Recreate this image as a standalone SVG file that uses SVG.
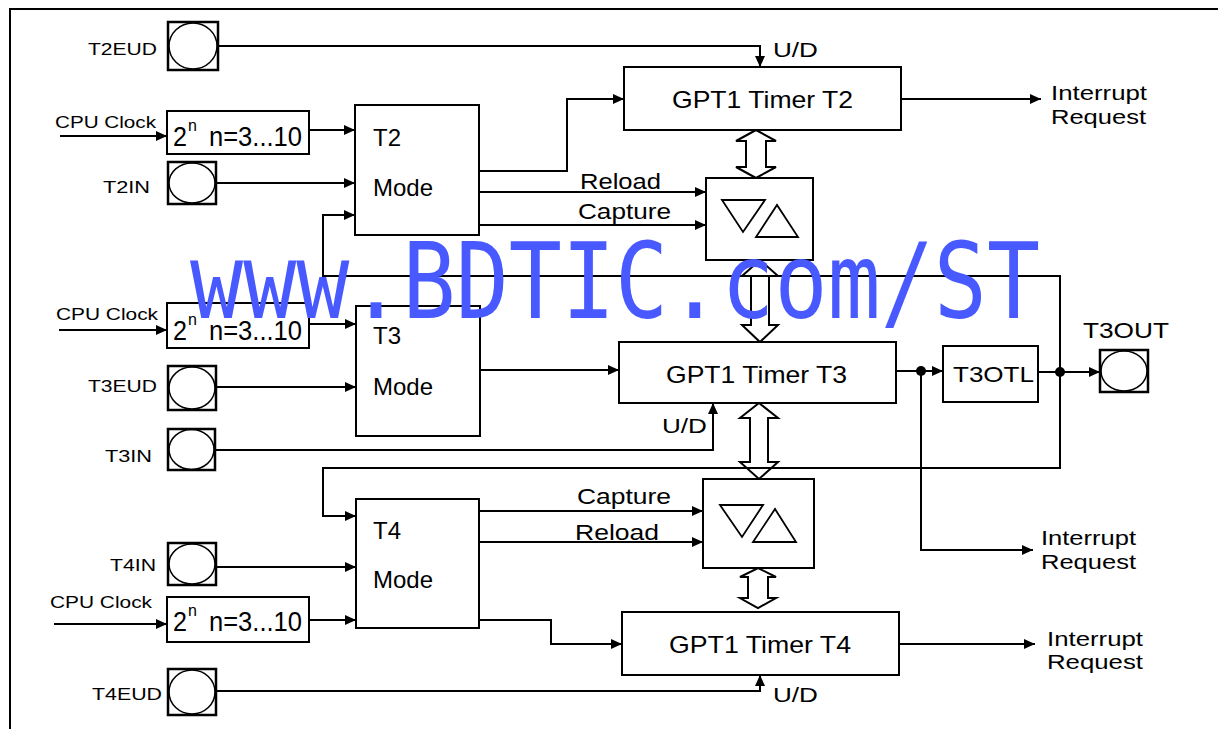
<svg xmlns="http://www.w3.org/2000/svg" width="1218" height="729" viewBox="0 0 1218 729">
<style>
.box{fill:#fff;stroke:#000;stroke-width:2}
.pin{fill:#fff;stroke:#000;stroke-width:2.5}
.pc{fill:none;stroke:#000;stroke-width:1.5}
.ln{fill:none;stroke:#000;stroke-width:2}
.ar{marker-end:url(#ah)}
.da{fill:none;stroke:#000;stroke-width:2;stroke-linejoin:miter}
.tri{fill:none;stroke:#000;stroke-width:1.8}
text{font-family:"Liberation Sans",Arial,sans-serif;fill:#000}
.pl{font-size:16.5px}
.cl{font-size:16px}
.md{font-size:24px}
.tm{font-size:24px}
.ud{font-size:20px}
.rc{font-size:22px}
.ir{font-size:21px}
.ps{font-size:28px}
.sup{font-size:16px}
.wm{font-family:"DejaVu Sans Mono",monospace;font-size:106px;fill:#485aff}
</style>
<defs>
<marker id="ah" markerUnits="userSpaceOnUse" markerWidth="11" markerHeight="10" refX="11" refY="5" orient="auto">
<path d="M0,0 L11,5 L0,10 z" fill="#000"/>
</marker>
</defs>

<g id="frame">
<path class="ln" d="M10,729 V9 H1218"/>
</g>

<g id="connectors">
<path class="ln ar" d="M218,46 H760 V67"/>
<path class="ln ar" d="M60,136 H167"/>
<path class="ln ar" d="M59,330 H167"/>
<path class="ln ar" d="M54,624 H167"/>
<path class="ln ar" d="M309,130 H355"/>
<path class="ln ar" d="M309,324 H356"/>
<path class="ln ar" d="M309,620 H356"/>
<path class="ln ar" d="M216,183 H355"/>
<path class="ln ar" d="M216,387 H356"/>
<path class="ln ar" d="M216,567 H356"/>
<path class="ln ar" d="M479,171 H567 V99 H624"/>
<path class="ln ar" d="M479,192 H706"/>
<path class="ln ar" d="M479,225 H706"/>
<path class="ln ar" d="M901,99 H1041"/>
<path class="ln ar" d="M480,370 H619"/>
<path class="ln ar" d="M215,450 H713 V403"/>
<path class="ln ar" d="M896,371 H943"/>
<path class="ln ar" d="M1038,372 H1100"/>
<path class="ln ar" d="M921,371 V550 H1033"/>
<path class="ln ar" d="M1060,372 V276 H323 V215 H355"/>
<path class="ln ar" d="M1060,372 V468 H323 V516 H356"/>
<path class="ln ar" d="M479,511 H703"/>
<path class="ln ar" d="M479,542 H703"/>
<path class="ln ar" d="M479,620 H551 V644 H622"/>
<path class="ln ar" d="M216,691 H760 V675"/>
<path class="ln ar" d="M899,644 H1035"/>
<circle cx="921" cy="371" r="5" fill="#000"/>
<circle cx="1060" cy="372" r="5" fill="#000"/>
<polygon class="da" points="756,130 776,141 766,141 766,167 776,167 756,178 736,167 746,167 746,141 736,141"/>
<polygon class="da" points="760,260 778,276 769,276 769,325 778,325 760,342 742,325 751,325 751,276 742,276"/>
<polygon class="da" points="759,403 778,418 768,418 768,462 778,462 759,479 740,462 750,462 750,418 740,418"/>
<polygon class="da" points="758,568 776,577 768,577 768,598 776,598 758,608 740,598 748,598 748,577 740,577"/>
</g>

<g id="pin-t2eud"><rect class="pin" x="168" y="22" width="50" height="48"/><ellipse class="pc" cx="193" cy="46" rx="24" ry="23"/><text class="pl" x="88" y="55" textLength="69" lengthAdjust="spacingAndGlyphs">T2EUD</text></g>
<g id="pin-t2in"><rect class="pin" x="168" y="162" width="48" height="42"/><ellipse class="pc" cx="192" cy="183" rx="23" ry="20"/><text class="pl" x="103" y="193" textLength="47" lengthAdjust="spacingAndGlyphs">T2IN</text></g>
<g id="pin-t3eud"><rect class="pin" x="168" y="366" width="48" height="44"/><ellipse class="pc" cx="192" cy="388" rx="23" ry="21"/><text class="pl" x="88" y="392" textLength="69" lengthAdjust="spacingAndGlyphs">T3EUD</text></g>
<g id="pin-t3in"><rect class="pin" x="168" y="429" width="47" height="41"/><ellipse class="pc" cx="191.5" cy="449.5" rx="22.5" ry="20"/><text class="pl" x="105" y="462" textLength="47" lengthAdjust="spacingAndGlyphs">T3IN</text></g>
<g id="pin-t4in"><rect class="pin" x="168" y="543" width="48" height="42"/><ellipse class="pc" cx="192" cy="564" rx="23" ry="20"/><text class="pl" x="110" y="571" textLength="46" lengthAdjust="spacingAndGlyphs">T4IN</text></g>
<g id="pin-t4eud"><rect class="pin" x="168" y="669" width="48" height="46"/><ellipse class="pc" cx="192" cy="692" rx="23" ry="22"/><text class="pl" x="92" y="700" textLength="70" lengthAdjust="spacingAndGlyphs">T4EUD</text></g>
<g id="pin-t3out"><rect class="pin" x="1100" y="350" width="48" height="42"/><ellipse class="pc" cx="1124" cy="371" rx="23" ry="20"/><text class="rc" x="1083" y="338" textLength="86" lengthAdjust="spacingAndGlyphs">T3OUT</text></g>

<g id="cpu-clock-labels">
<text class="cl" x="55" y="128" textLength="101" lengthAdjust="spacingAndGlyphs">CPU Clock</text>
<text class="cl" x="56" y="320" textLength="102" lengthAdjust="spacingAndGlyphs">CPU Clock</text>
<text class="cl" x="50" y="608" textLength="102" lengthAdjust="spacingAndGlyphs">CPU Clock</text>
</g>

<g id="prescaler-t2"><rect class="box" x="167" y="111" width="142" height="43"/><text class="ps" x="173" y="146" textLength="14" lengthAdjust="spacingAndGlyphs">2</text><text class="sup" x="188" y="131">n</text><text class="ps" x="209" y="146" textLength="93" lengthAdjust="spacingAndGlyphs">n=3...10</text></g>
<g id="prescaler-t3"><rect class="box" x="167" y="303" width="142" height="45"/><text class="ps" x="173" y="340" textLength="14" lengthAdjust="spacingAndGlyphs">2</text><text class="sup" x="188" y="325">n</text><text class="ps" x="209" y="340" textLength="93" lengthAdjust="spacingAndGlyphs">n=3...10</text></g>
<g id="prescaler-t4"><rect class="box" x="167" y="597" width="142" height="45"/><text class="ps" x="173" y="631" textLength="14" lengthAdjust="spacingAndGlyphs">2</text><text class="sup" x="188" y="616">n</text><text class="ps" x="209" y="631" textLength="93" lengthAdjust="spacingAndGlyphs">n=3...10</text></g>

<g id="mode-t2"><rect class="box" x="355" y="105" width="124" height="130"/><text class="md" x="373" y="146">T2</text><text class="md" x="373" y="196">Mode</text></g>
<g id="mode-t3"><rect class="box" x="356" y="306" width="124" height="130"/><text class="md" x="373" y="344">T3</text><text class="md" x="373" y="395">Mode</text></g>
<g id="mode-t4"><rect class="box" x="356" y="499" width="123" height="129"/><text class="md" x="373" y="539">T4</text><text class="md" x="373" y="588">Mode</text></g>

<g id="timer-t2"><rect class="box" x="624" y="67" width="277" height="63"/><text class="tm" x="672" y="108" textLength="181" lengthAdjust="spacingAndGlyphs">GPT1 Timer T2</text></g>
<g id="timer-t3"><rect class="box" x="619" y="342" width="277" height="61"/><text class="tm" x="666" y="383" textLength="181" lengthAdjust="spacingAndGlyphs">GPT1 Timer T3</text></g>
<g id="timer-t4"><rect class="box" x="622" y="612" width="277" height="63"/><text class="tm" x="669" y="653" textLength="182" lengthAdjust="spacingAndGlyphs">GPT1 Timer T4</text></g>

<g id="capreload-t2"><rect class="box" x="706" y="178" width="107" height="82"/><polygon class="tri" points="722,200 765,200 743,232"/><polygon class="tri" points="756,237 798,237 777,205"/></g>
<g id="capreload-t4"><rect class="box" x="703" y="479" width="111" height="89"/><polygon class="tri" points="720,505 763,505 742,537"/><polygon class="tri" points="753,542 796,542 775,509"/></g>

<g id="t3otl"><rect class="box" x="943" y="346" width="95" height="56"/><text class="rc" x="953" y="382" textLength="81" lengthAdjust="spacingAndGlyphs">T3OTL</text></g>

<g id="labels">
<text class="ud" x="773" y="57" textLength="45" lengthAdjust="spacingAndGlyphs">U/D</text>
<text class="ud" x="662" y="433" textLength="45" lengthAdjust="spacingAndGlyphs">U/D</text>
<text class="ud" x="773" y="702" textLength="45" lengthAdjust="spacingAndGlyphs">U/D</text>
<text class="rc" x="580" y="189" textLength="81" lengthAdjust="spacingAndGlyphs">Reload</text>
<text class="rc" x="578" y="219" textLength="93" lengthAdjust="spacingAndGlyphs">Capture</text>
<text class="rc" x="577" y="504" textLength="94" lengthAdjust="spacingAndGlyphs">Capture</text>
<text class="rc" x="575" y="540" textLength="84" lengthAdjust="spacingAndGlyphs">Reload</text>
<text class="ir" x="1051" y="100" textLength="96" lengthAdjust="spacingAndGlyphs">Interrupt</text>
<text class="ir" x="1051" y="124" textLength="95" lengthAdjust="spacingAndGlyphs">Request</text>
<text class="ir" x="1041" y="545" textLength="95" lengthAdjust="spacingAndGlyphs">Interrupt</text>
<text class="ir" x="1041" y="569" textLength="95" lengthAdjust="spacingAndGlyphs">Request</text>
<text class="ir" x="1047" y="646" textLength="96" lengthAdjust="spacingAndGlyphs">Interrupt</text>
<text class="ir" x="1047" y="669" textLength="96" lengthAdjust="spacingAndGlyphs">Request</text>
</g>

<g id="watermark">
<text class="wm" x="190" y="318" textLength="850" lengthAdjust="spacingAndGlyphs">www.BDTIC.com/ST</text>
</g>
</svg>
